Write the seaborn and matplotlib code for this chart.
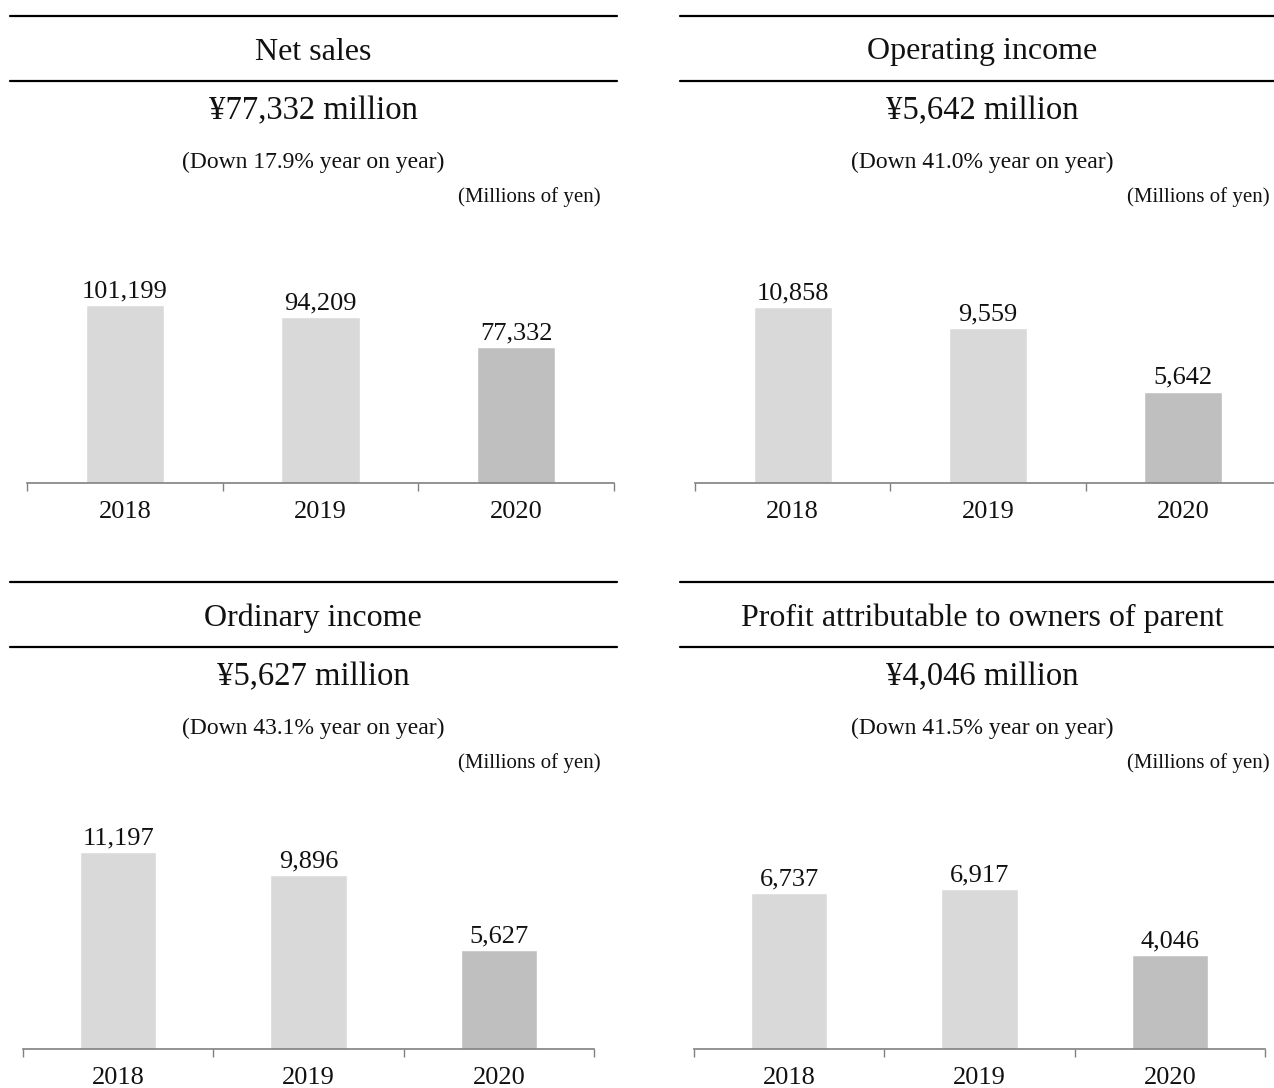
import matplotlib
matplotlib.use("Agg")
import matplotlib.pyplot as plt
from matplotlib.lines import Line2D
import pandas as pd
import seaborn as sns

# dados
anos = ["2018", "2019", "2020"]
vendas = [101199, 94209, 77332]
lucro_operacional = [10858, 9559, 5642]
lucro_ordinario = [11197, 9896, 5627]
lucro_controladora = [6737, 6917, 4046]
titulos = ["Net sales", "Operating income", "Ordinary income",
           "Profit attributable to owners of parent"]
queda = [17.9, 41.0, 43.1, 41.5]
series = [vendas, lucro_operacional, lucro_ordinario, lucro_controladora]

sns.set_style("white")
plt.rcParams["font.family"] = ["Liberation Serif", "DejaVu Serif"]
plt.rcParams["text.color"] = "#111111"

W, H = 1274, 1088
fig = plt.figure(figsize=(W / 100, H / 100), dpi=100)
fig.patch.set_facecolor("white")

# posicoes em pixels
paineis = [
    dict(x0=27, x1=614, base=483, ymax=143800, cx=313, lx0=10, lx1=617, rx=601, dy=0),
    dict(x0=695, x1=1281, base=483, ymax=15608, cx=982, lx0=680, lx1=1280, rx=1270, dy=0),
    dict(x0=23, x1=594, base=1049, ymax=14380, cx=313, lx0=10, lx1=617, rx=601, dy=566),
    dict(x0=694, x1=1265, base=1049, ymax=10926, cx=982, lx0=680, lx1=1280, rx=1270, dy=566),
]
cores = ["#d9d9d9", "#d9d9d9", "#bfbfbf"]
altura_eixo = 253


def fx(px):
    return px / W


def fy(py):
    return 1 - py / H


for i, p in enumerate(paineis):
    dy = p["dy"]
    # linhas do cabecalho
    for ly in (16 + dy, 81 + dy):
        fig.add_artist(Line2D([fx(p["lx0"]), fx(p["lx1"])], [fy(ly), fy(ly)],
                              color="black", linewidth=1.6))
    fig.text(fx(p["cx"]), fy(52 + dy), titulos[i], ha="center", va="center", fontsize=23)
    fig.text(fx(p["cx"]), fy(111 + dy), f"¥{series[i][-1]:,} million",
             ha="center", va="center", fontsize=23.5)
    fig.text(fx(p["cx"]), fy(162 + dy), f"(Down {queda[i]:.1f}% year on year)",
             ha="center", va="center", fontsize=17)
    fig.text(fx(p["rx"]), fy(197 + dy), "(Millions of yen)",
             ha="right", va="center", fontsize=15)

    # grafico de barras
    ax = fig.add_axes([fx(p["x0"]), fy(p["base"]), fx(p["x1"]) - fx(p["x0"]),
                       altura_eixo / H])
    df = pd.DataFrame({"ano": anos, "valor": series[i]})
    sns.barplot(data=df, x="ano", y="valor", hue="ano", palette=cores,
                width=0.4, legend=False, ax=ax, saturation=1)
    ax.set_xlim(-0.5, 2.5)
    ax.set_ylim(0, p["ymax"])
    for c in ax.containers:
        ax.bar_label(c, labels=[f"{int(round(v)):,}" for v in c.datavalues], padding=2,
                     fontsize=19, color="#111111")
    ax.set_xlabel("")
    ax.set_ylabel("")
    ax.set_yticks([])
    for s in ["top", "left", "right"]:
        ax.spines[s].set_visible(False)
    ax.spines["bottom"].set_color("#808080")
    ax.spines["bottom"].set_linewidth(1.2)
    ax.set_xticks([-0.5, 0.5, 1.5, 2.5], minor=True)
    ax.tick_params(axis="x", which="minor", length=6, width=1.0, color="#808080",
                   direction="out", bottom=True)
    ax.tick_params(axis="x", which="major", length=0, pad=13, labelsize=19,
                   labelcolor="#111111")
    ax.patch.set_alpha(0)

fig.savefig("out.png", dpi=100, facecolor="white")
